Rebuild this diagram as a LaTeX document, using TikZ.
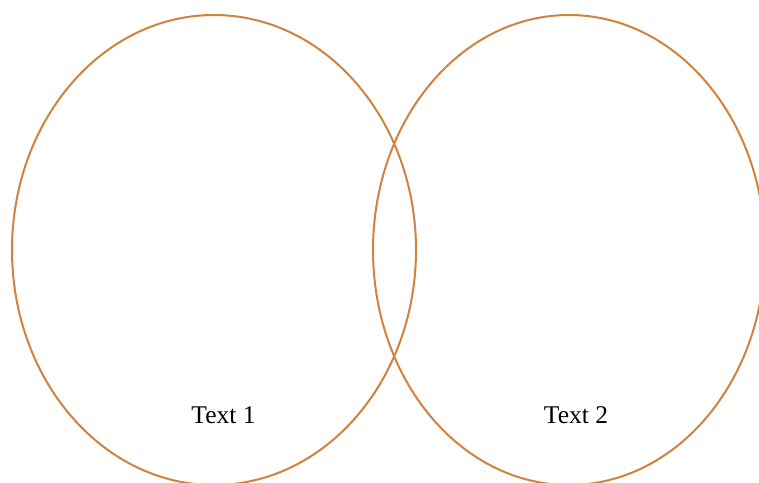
\documentclass[tikz,border=0pt]{standalone}
\usepackage{fontspec}
\setmainfont{Liberation Serif}
\usetikzlibrary{shapes.geometric}
\definecolor{ringc}{RGB}{208,130,62}
\tikzset{ring/.style={draw=ringc,line width=2pt},
  lbl/.style={anchor=base,inner sep=0pt,font=\fontsize{25.5}{30}\selectfont}}
\begin{document}
\begin{tikzpicture}[x=1pt,y=-1pt]
\useasboundingbox (0,0) rectangle (759,482);
\begin{scope}
\clip (0,0) rectangle (759,482);
\node[ring,ellipse,minimum width=404pt,minimum height=470pt,inner sep=0pt] (e1) at (214,250) {};
\node[ring,ellipse,minimum width=392pt,minimum height=470pt,inner sep=0pt] (e2) at (569,250) {};
\end{scope}
\node[lbl] (t1) at (223.5,423) {Text 1};
\node[lbl] (t2) at (576,423) {Text 2};
\end{tikzpicture}
\end{document}
